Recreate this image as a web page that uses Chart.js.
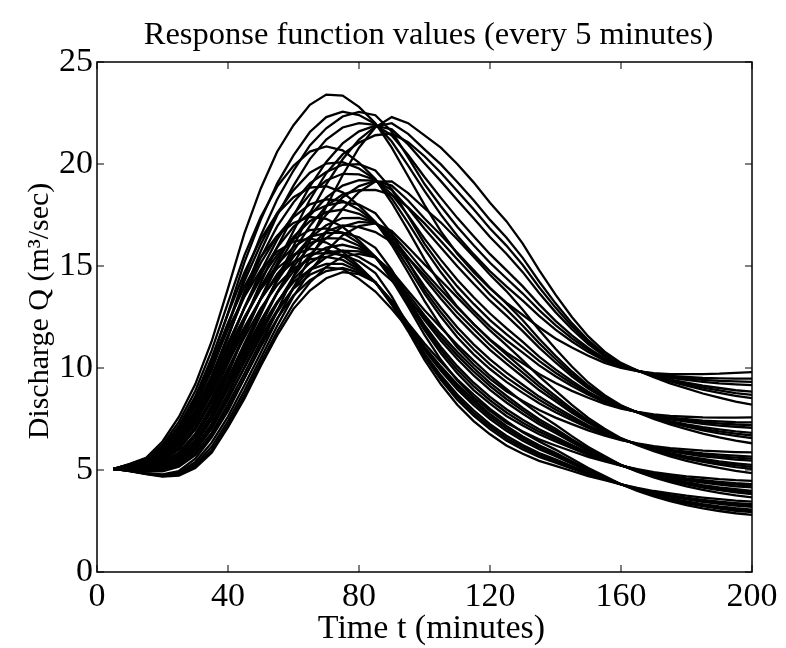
<!DOCTYPE html>
<html>
<head>
<meta charset="utf-8">
<script src="https://cdn.jsdelivr.net/npm/chart.js@4.4.0/dist/chart.umd.min.js"></script>
<style>
  html, body { margin: 0; padding: 0; background: #fff; }
  #wrap { width: 786px; height: 648px; }
</style>
</head>
<body>
<div id="wrap"><canvas id="chart" width="786" height="648"></canvas></div>
<script>
/* Sample times (minutes) and axis ticks */
const times = [5,10,15,20,25,30,35,40,45,50,55,60,65,70,75,80,85,90,95,100,105,110,115,120,125,130,135,140,145,150,155,160,165,170,175,180,185,190,195,200];
const xTicks = [0, 40, 80, 120, 160, 200];
const yTicks = [0, 5, 10, 15, 20, 25];

/* Response curves, grouped by the level of their tail */
const curvesG1 = [
  [5.05,5.3,5.6,6.4,7.6,9.2,11.3,13.9,16.6,18.8,20.6,21.9,22.9,23.4,23.35,22.8,22.0,20.8,19.4,18.0,16.7,15.6,14.7,13.9,13.2,12.6,12.0,11.45,11.0,10.6,10.25,10.0,9.85,9.75,9.7,9.7,9.7,9.72,9.76,9.8],
  [5.05,5.23,5.45,6.08,7.07,8.47,10.36,12.7,15.18,17.26,19.04,20.42,21.57,22.3,22.57,22.4,21.96,21.1,19.92,18.68,17.52,16.48,15.58,14.74,14.0,13.3,12.56,11.88,11.3,10.79,10.36,10.05,9.86,9.71,9.61,9.56,9.51,9.49,9.48,9.48],
  [5.05,5.2,5.38,5.92,6.81,8.11,9.89,12.1,14.47,16.49,18.26,19.68,20.91,21.75,22.33,22.55,22.39,21.6,20.33,19.02,17.93,16.92,16.02,15.16,14.4,13.65,12.84,12.1,11.45,10.89,10.42,10.08,9.86,9.69,9.57,9.49,9.42,9.37,9.34,9.32],
  [5.05,5.17,5.3,5.75,6.54,7.74,9.42,11.5,13.76,15.72,17.48,18.94,20.24,21.2,21.79,22.0,21.92,21.4,20.44,19.36,18.34,17.36,16.46,15.58,14.8,14.0,13.12,12.31,11.6,10.98,10.47,10.1,9.86,9.67,9.52,9.42,9.32,9.25,9.2,9.16],
  [5.05,5.1,5.15,5.43,6.01,7.01,8.48,10.3,12.34,14.18,15.92,17.46,18.91,20.1,21.01,21.6,21.88,21.7,20.96,20.04,19.16,18.24,17.34,16.42,15.6,14.7,13.68,12.74,11.9,11.17,10.58,10.15,9.87,9.63,9.43,9.28,9.13,9.02,8.91,8.84],
  [5.05,5.07,5.08,5.27,5.75,6.65,8.01,9.7,11.63,13.41,15.14,16.72,18.25,19.55,20.47,21.05,21.41,21.5,21.07,20.38,19.57,18.68,17.78,16.84,16.0,15.05,13.96,12.96,12.05,11.27,10.64,10.18,9.87,9.61,9.39,9.21,9.04,8.9,8.77,8.68],
  [5.05,5.04,5.0,5.1,5.48,6.28,7.54,9.1,10.92,12.64,14.36,15.98,17.58,19.0,20.23,21.2,21.84,22.0,21.48,20.72,19.98,19.12,18.22,17.26,16.4,15.4,14.24,13.17,12.2,11.36,10.69,10.2,9.87,9.59,9.34,9.14,8.94,8.78,8.63,8.52],
  [5.05,4.97,4.85,4.78,4.95,5.55,6.6,7.9,9.5,11.1,12.8,14.5,16.25,17.9,19.45,20.8,21.8,22.3,22.0,21.4,20.8,20.0,19.1,18.1,17.2,16.1,14.8,13.6,12.5,11.55,10.8,10.25,9.88,9.55,9.25,9.0,8.75,8.55,8.35,8.2]
];
const curvesG2 = [
  [5.05,5.28,5.57,6.24,7.36,8.87,10.85,13.2,15.52,17.4,18.89,19.91,20.61,20.86,20.67,20.07,19.27,18.1,16.75,15.34,14.08,13.01,12.15,11.4,10.76,10.23,9.71,9.26,8.88,8.54,8.24,8.01,7.85,7.73,7.65,7.61,7.58,7.57,7.57,7.58],
  [5.05,5.22,5.42,5.94,6.86,8.17,9.95,12.08,14.25,16.07,17.59,18.72,19.57,20.02,20.09,19.78,19.24,18.31,17.11,15.84,14.69,13.67,12.81,12.03,11.36,10.75,10.13,9.6,9.12,8.69,8.33,8.04,7.84,7.68,7.57,7.49,7.42,7.38,7.34,7.33],
  [5.05,5.19,5.35,5.79,6.61,7.83,9.5,11.53,13.61,15.41,16.94,18.12,19.05,19.61,19.96,19.99,19.68,18.77,17.44,16.1,14.99,14.0,13.14,12.35,11.66,11.01,10.35,9.77,9.24,8.77,8.37,8.06,7.84,7.66,7.53,7.43,7.34,7.28,7.23,7.2],
  [5.05,5.15,5.27,5.64,6.36,7.48,9.05,10.97,12.97,14.74,16.29,17.52,18.52,19.19,19.52,19.49,19.22,18.52,17.48,16.34,15.3,14.33,13.47,12.67,11.96,11.28,10.56,9.93,9.36,8.84,8.41,8.07,7.84,7.64,7.48,7.37,7.26,7.18,7.12,7.07],
  [5.05,5.09,5.13,5.35,5.87,6.78,8.14,9.85,11.7,13.41,14.98,16.33,17.48,18.35,18.94,19.21,19.19,18.73,17.84,16.83,15.91,14.99,14.13,13.3,12.57,11.81,11.0,10.27,9.59,8.99,8.5,8.11,7.83,7.59,7.4,7.24,7.1,6.99,6.89,6.82],
  [5.05,5.06,5.06,5.2,5.62,6.44,7.69,9.3,11.07,12.75,14.33,15.73,16.96,17.94,18.51,18.72,18.73,18.49,17.87,17.09,16.22,15.33,14.47,13.61,12.87,12.07,11.22,10.44,9.71,9.07,8.54,8.13,7.83,7.57,7.36,7.18,7.02,6.89,6.78,6.69],
  [5.05,5.02,4.98,5.05,5.37,6.09,7.24,8.74,10.43,12.08,13.68,15.13,16.43,17.52,18.37,18.92,19.17,18.94,18.21,17.33,16.52,15.65,14.8,13.93,13.17,12.34,11.43,10.6,9.83,9.14,8.58,8.14,7.83,7.55,7.31,7.12,6.94,6.79,6.67,6.56],
  [5.05,4.96,4.83,4.75,4.87,5.39,6.34,7.62,9.15,10.75,12.38,13.94,15.39,16.68,17.79,18.63,19.14,19.15,18.57,17.83,17.13,16.31,15.46,14.57,13.77,12.86,11.86,10.94,10.07,9.29,8.67,8.17,7.82,7.5,7.23,7.0,6.78,6.6,6.44,6.31]
];
const curvesG3 = [
  [5.05,5.27,5.54,6.12,7.17,8.61,10.49,12.66,14.68,16.32,17.56,18.37,18.84,18.91,18.61,17.96,17.16,16.03,14.68,13.29,12.05,11.01,10.17,9.47,8.86,8.38,7.94,7.57,7.25,6.94,6.69,6.47,6.3,6.17,6.07,6.01,5.95,5.91,5.88,5.86],
  [5.05,5.21,5.4,5.84,6.7,7.94,9.62,11.61,13.52,15.15,16.46,17.4,18.02,18.27,18.19,17.76,17.15,16.17,14.93,13.65,12.51,11.51,10.67,9.95,9.32,8.78,8.27,7.83,7.44,7.06,6.76,6.49,6.28,6.12,5.99,5.9,5.81,5.75,5.7,5.66],
  [5.05,5.18,5.33,5.7,6.47,7.61,9.19,11.09,12.94,14.57,15.91,16.92,17.61,17.96,18.13,18.01,17.59,16.59,15.2,13.82,12.73,11.75,10.92,10.18,9.54,8.98,8.44,7.97,7.54,7.12,6.79,6.5,6.28,6.1,5.95,5.85,5.74,5.67,5.61,5.56],
  [5.05,5.15,5.25,5.56,6.23,7.27,8.75,10.56,12.36,13.98,15.36,16.43,17.2,17.64,17.77,17.56,17.13,16.3,15.18,14.0,12.95,12.0,11.16,10.42,9.77,9.18,8.6,8.1,7.63,7.18,6.82,6.51,6.27,6.07,5.91,5.79,5.67,5.59,5.51,5.46],
  [5.05,5.08,5.11,5.28,5.75,6.61,7.88,9.5,11.2,12.82,14.26,15.45,16.37,17.0,17.35,17.36,17.12,16.44,15.42,14.37,13.4,12.48,11.66,10.89,10.21,9.57,8.92,8.37,7.81,7.31,6.89,6.52,6.25,6.02,5.83,5.67,5.54,5.42,5.33,5.25],
  [5.05,5.05,5.04,5.14,5.52,6.28,7.45,8.98,10.62,12.24,13.71,14.97,15.96,16.69,16.99,16.91,16.66,16.17,15.4,14.55,13.62,12.72,11.92,11.13,10.44,9.77,9.1,8.5,7.91,7.37,6.92,6.53,6.25,6.0,5.79,5.62,5.47,5.34,5.24,5.15],
  [5.05,5.02,4.96,5.0,5.28,5.94,7.01,8.45,10.04,11.65,13.16,14.48,15.55,16.37,16.93,17.16,17.1,16.58,15.68,14.72,13.84,12.97,12.16,11.36,10.67,9.97,9.26,8.63,8.0,7.43,6.95,6.54,6.24,5.97,5.75,5.56,5.4,5.26,5.14,5.05],
  [5.05,4.96,4.82,4.72,4.81,5.27,6.14,7.4,8.88,10.48,12.06,13.51,14.73,15.73,16.51,16.96,17.09,16.72,15.92,15.08,14.29,13.46,12.65,11.84,11.12,10.37,9.59,8.89,8.19,7.55,7.02,6.56,6.22,5.92,5.67,5.45,5.26,5.1,4.96,4.85]
];
const curvesG4 = [
  [5.05,5.26,5.52,6.02,7.01,8.4,10.21,12.22,14.0,15.44,16.48,17.11,17.4,17.31,16.92,16.25,15.45,14.33,13.02,11.62,10.4,9.39,8.56,7.9,7.32,6.89,6.5,6.2,5.92,5.64,5.42,5.21,5.04,4.9,4.79,4.69,4.62,4.55,4.5,4.47],
  [5.05,5.2,5.38,5.76,6.56,7.75,9.36,11.22,12.93,14.4,15.54,16.32,16.76,16.84,16.63,16.12,15.44,14.41,13.17,11.86,10.72,9.74,8.92,8.25,7.65,7.18,6.75,6.4,6.07,5.74,5.47,5.22,5.02,4.85,4.71,4.59,4.5,4.42,4.35,4.31],
  [5.05,5.17,5.31,5.63,6.34,7.43,8.94,10.72,12.4,13.89,15.07,15.93,16.44,16.61,16.64,16.41,15.89,14.81,13.4,11.99,10.88,9.92,9.11,8.42,7.82,7.32,6.88,6.5,6.15,5.79,5.5,5.23,5.01,4.83,4.67,4.54,4.44,4.35,4.28,4.23],
  [5.05,5.14,5.24,5.49,6.11,7.11,8.51,10.22,11.86,13.37,14.6,15.53,16.12,16.37,16.34,15.99,15.44,14.49,13.32,12.1,11.03,10.09,9.28,8.58,7.98,7.46,7.0,6.61,6.22,5.84,5.52,5.23,4.99,4.8,4.63,4.49,4.38,4.28,4.2,4.15],
  [5.05,5.07,5.09,5.23,5.66,6.46,7.67,9.23,10.8,12.33,13.67,14.74,15.47,15.9,16.04,15.85,15.43,14.58,13.47,12.35,11.34,10.44,9.64,8.93,8.31,7.76,7.24,6.81,6.36,5.93,5.58,5.23,4.97,4.74,4.56,4.4,4.26,4.15,4.06,3.98],
  [5.05,5.04,5.02,5.1,5.44,6.14,7.25,8.73,10.27,11.82,13.2,14.35,15.15,15.67,15.75,15.44,14.98,14.28,13.4,12.47,11.5,10.62,9.83,9.11,8.48,7.91,7.37,6.91,6.44,5.98,5.61,5.24,4.96,4.72,4.52,4.35,4.2,4.08,3.99,3.9],
  [5.05,5.01,4.95,4.96,5.21,5.82,6.82,8.23,9.73,11.3,12.73,13.95,14.83,15.43,15.75,15.72,15.43,14.66,13.62,12.59,11.66,10.79,10.0,9.27,8.64,8.04,7.49,7.02,6.51,6.03,5.63,5.24,4.94,4.69,4.48,4.3,4.14,4.01,3.91,3.82],
  [5.05,4.95,4.81,4.7,4.76,5.17,5.97,7.23,8.66,10.26,11.79,13.16,14.19,14.96,15.46,15.59,15.42,14.74,13.77,12.83,11.98,11.14,10.36,9.62,8.97,8.33,7.74,7.22,6.66,6.13,5.68,5.25,4.92,4.64,4.4,4.2,4.02,3.88,3.76,3.66]
];
const curvesG5 = [
  [5.05,5.25,5.5,5.95,6.9,8.25,10.0,11.9,13.5,14.8,15.7,16.2,16.35,16.15,15.7,15.0,14.2,13.1,11.8,10.4,9.2,8.2,7.4,6.75,6.2,5.8,5.45,5.2,4.95,4.7,4.5,4.3,4.12,3.97,3.85,3.74,3.65,3.57,3.5,3.45],
  [5.05,5.19,5.36,5.7,6.46,7.62,9.17,10.94,12.5,13.86,14.88,15.54,15.84,15.8,15.5,14.92,14.2,13.14,11.88,10.56,9.42,8.45,7.66,7.0,6.44,6.01,5.64,5.36,5.07,4.78,4.54,4.3,4.09,3.92,3.77,3.65,3.54,3.45,3.38,3.32],
  [5.05,5.16,5.29,5.57,6.25,7.31,8.76,10.46,12.0,13.39,14.47,15.21,15.59,15.63,15.55,15.23,14.65,13.51,12.07,10.64,9.53,8.58,7.79,7.13,6.56,6.12,5.74,5.44,5.13,4.82,4.56,4.3,4.08,3.89,3.74,3.61,3.49,3.4,3.32,3.26],
  [5.05,5.13,5.22,5.44,6.03,6.99,8.34,9.98,11.5,12.92,14.06,14.88,15.33,15.45,15.3,14.84,14.2,13.18,11.96,10.72,9.64,8.7,7.92,7.25,6.68,6.22,5.83,5.52,5.19,4.86,4.58,4.3,4.06,3.86,3.7,3.56,3.44,3.34,3.25,3.19],
  [5.05,5.07,5.08,5.19,5.59,6.36,7.51,9.02,10.5,11.98,13.24,14.22,14.82,15.1,15.1,14.76,14.2,13.22,12.04,10.88,9.86,8.95,8.18,7.5,6.92,6.43,6.02,5.68,5.31,4.94,4.62,4.3,4.04,3.81,3.62,3.46,3.33,3.22,3.13,3.06],
  [5.05,5.04,5.01,5.06,5.38,6.05,7.1,8.54,10.0,11.51,12.83,13.89,14.57,14.93,14.85,14.37,13.75,12.89,11.93,10.96,9.97,9.08,8.31,7.63,7.04,6.54,6.12,5.76,5.37,4.98,4.64,4.3,4.03,3.78,3.59,3.42,3.28,3.17,3.07,3.0],
  [5.05,5.01,4.94,4.93,5.16,5.73,6.68,8.06,9.5,11.04,12.42,13.56,14.31,14.75,14.9,14.68,14.2,13.26,12.12,11.04,10.08,9.2,8.44,7.75,7.16,6.64,6.21,5.84,5.43,5.02,4.66,4.3,4.01,3.75,3.55,3.37,3.23,3.11,3.0,2.93],
  [5.05,4.95,4.8,4.68,4.72,5.1,5.85,7.1,8.5,10.1,11.6,12.9,13.8,14.4,14.7,14.6,14.2,13.3,12.2,11.2,10.3,9.45,8.7,8.0,7.4,6.85,6.4,6.0,5.55,5.1,4.7,4.3,3.98,3.7,3.47,3.28,3.12,2.99,2.88,2.8]
];

const TITLE = 'Response function values (every 5 minutes)';
const X_LABEL = 'Time t (minutes)';
const Y_LABEL = 'Discharge Q (m\u00B3/sec)';
const FONT = '"Liberation Serif", "Times New Roman", serif';

/* Box, inward ticks on all four sides and the three titles */
const frame = {
  id: 'frame',
  afterDatasetsDraw(chart) {
    const { ctx, chartArea: a, scales: { x, y } } = chart;
    ctx.save();
    ctx.strokeStyle = '#000';
    ctx.lineWidth = 1.5;
    ctx.strokeRect(a.left, a.top, a.right - a.left, a.bottom - a.top);
    ctx.beginPath();
    xTicks.forEach(v => {
      const px = x.getPixelForValue(v);
      ctx.moveTo(px, a.bottom); ctx.lineTo(px, a.bottom - 7);
      ctx.moveTo(px, a.top); ctx.lineTo(px, a.top + 7);
    });
    yTicks.forEach(v => {
      const py = y.getPixelForValue(v);
      ctx.moveTo(a.left, py); ctx.lineTo(a.left + 7, py);
      ctx.moveTo(a.right, py); ctx.lineTo(a.right - 7, py);
    });
    ctx.lineWidth = 1;
    ctx.stroke();

    ctx.fillStyle = '#000';
    ctx.textAlign = 'center';
    ctx.textBaseline = 'alphabetic';
    const cx = (a.left + a.right) / 2;
    ctx.font = '32.5px ' + FONT;
    ctx.fillText(TITLE, cx + 4, 44);
    ctx.font = '34px ' + FONT;
    ctx.fillText(X_LABEL, cx + 7, 638);
    ctx.translate(48, (a.top + a.bottom) / 2 - 6);
    ctx.rotate(-Math.PI / 2);
    ctx.font = '30px ' + FONT;
    ctx.fillText(Y_LABEL, 0, 0);
    ctx.restore();
  }
};

const allCurves = [curvesG1, curvesG2, curvesG3, curvesG4, curvesG5].flat();
const datasets = allCurves.map(vals => ({
  data: vals.map((q, i) => ({ x: times[i], y: q })),
  borderColor: '#000',
  borderWidth: 2.3,
  pointRadius: 0,
  fill: false,
  tension: 0
}));

new Chart(document.getElementById('chart'), {
  type: 'line',
  data: { datasets },
  plugins: [frame],
  options: {
    responsive: false,
    animation: false,
    devicePixelRatio: 1,
    layout: { padding: { top: 62, right: 34, bottom: 0, left: 0 } },
    plugins: { legend: { display: false }, tooltip: { enabled: false }, title: { display: false } },
    scales: {
      x: {
        type: 'linear', min: 0, max: 200,
        afterBuildTicks: s => { s.ticks = xTicks.map(v => ({ value: v })); },
        afterFit: s => { s.height = 76; },
        ticks: { color: '#000', font: { family: FONT, size: 34 }, padding: 5, maxRotation: 0, autoSkip: false },
        grid: { display: false, drawTicks: false },
        border: { display: false }
      },
      y: {
        type: 'linear', min: 0, max: 25,
        afterBuildTicks: s => { s.ticks = yTicks.map(v => ({ value: v })); },
        afterFit: s => { s.width = 97; },
        ticks: { color: '#000', font: { family: FONT, size: 34 }, padding: 4, autoSkip: false },
        grid: { display: false, drawTicks: false },
        border: { display: false }
      }
    }
  }
});
</script>
</body>
</html>
